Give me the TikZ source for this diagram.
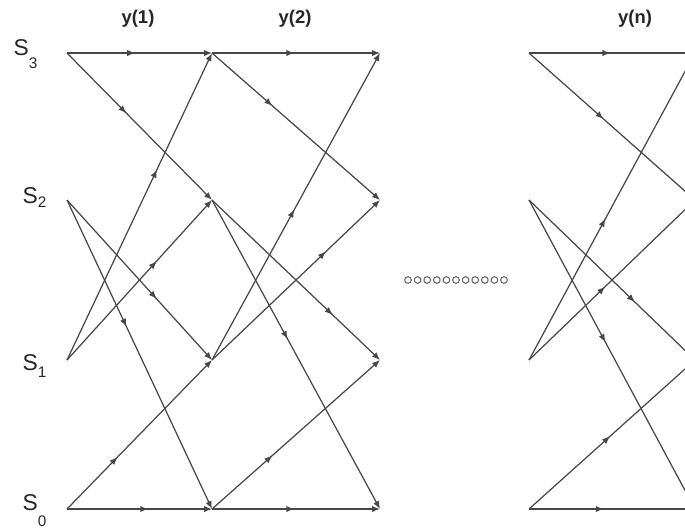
\documentclass[tikz,border=0pt]{standalone}
\usepackage{fontspec}
\setmainfont{Liberation Sans}
\usetikzlibrary{arrows.meta,decorations.markings}

\begin{document}
\begin{tikzpicture}[x=0.02cm,y=-0.02cm,line width=0.7pt,
tr/.style={draw=black!72,-{Latex[length=4.5pt,width=3.6pt]},postaction={decorate},decoration={markings,mark=at position #1 with {\arrow{Latex[length=4.5pt,width=3.6pt]}}}},
lab/.style={font=\fontsize{10.5}{12}\selectfont\bfseries,text=black!85},
st/.style={anchor=base west,inner sep=0pt,font=\fontsize{13}{14}\selectfont,text=black!85},
dot/.style={circle,draw=black!60,line width=0.6pt,inner sep=0pt,minimum size=3.8pt}]
\clip (0,0) rectangle (685,529);
% trellis states: s<state>c<column>
\foreach \c/\x in {0/67,1/212,2/380,3/529,4/695}
  \foreach \s/\y in {3/53,2/200,1/360,0/509}
    \coordinate (s\s c\c) at (\x,\y);
% labels
\node[lab](y1) at (138,19){y(1)};
\node[lab](y2) at (295,19){y(2)};
\node[lab](yn) at (635,19){y(n)};
\node[st](l3) at (13,55){S\raisebox{-7.4pt}{\fontsize{8.7}{9}\selectfont 3}};
\node[st](l2) at (22,203){S\raisebox{-2.8pt}{\fontsize{8.7}{9}\selectfont 2}};
\node[st](l1) at (22,370){S\raisebox{-4.5pt}{\fontsize{8.7}{9}\selectfont 1}};
\node[st](l0) at (22,510){S\raisebox{-9.6pt}{\fontsize{8.7}{9}\selectfont 0}};
% first stage
\draw[tr=0.47](s3c0)--(s3c1);\draw[tr=0.41](s3c0)--(s2c1);
\draw[tr=0.62](s2c0)--(s1c1);\draw[tr=0.41](s2c0)--(s0c1);
\draw[tr=0.62](s1c0)--(s3c1);\draw[tr=0.62](s1c0)--(s2c1);
\draw[tr=0.35](s0c0)--(s1c1);\draw[tr=0.56](s0c0)--(s0c1);
% second stage
\draw[tr=0.49](s3c1)--(s3c2);\draw[tr=0.36](s3c1)--(s2c2);
\draw[tr=0.72](s2c1)--(s1c2);\draw[tr=0.45](s2c1)--(s0c2);
\draw[tr=0.49](s1c1)--(s3c2);\draw[tr=0.68](s1c1)--(s2c2);
\draw[tr=0.36](s0c1)--(s1c2);\draw[tr=0.49](s0c1)--(s0c2);
% last stage
\draw[tr=0.49](s3c3)--(s3c4);\draw[tr=0.45](s3c3)--(s2c4);
\draw[tr=0.64](s2c3)--(s1c4);\draw[tr=0.46](s2c3)--(s0c4);
\draw[tr=0.46](s1c3)--(s3c4);\draw[tr=0.46](s1c3)--(s2c4);
\draw[tr=0.49](s0c3)--(s1c4);\draw[tr=0.45](s0c3)--(s0c4);
% dots between
\foreach \i in {0,...,10} \node[dot](d\i) at (408+9.6*\i,280){};
\end{tikzpicture}
\end{document}
